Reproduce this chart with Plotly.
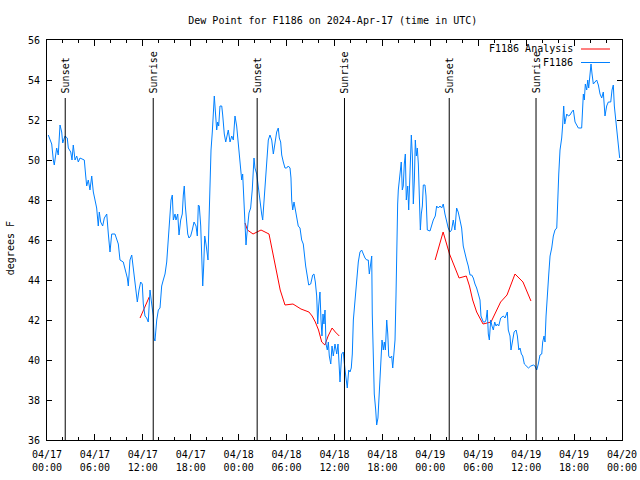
import pandas as pd
import plotly.graph_objects as go

# ---------------- data ----------------
start = pd.Timestamp("2024-04-17 00:00")
x_range = ["2024-04-17 00:00", "2024-04-20 00:00"]

# observed dew point (hours since 04/17 00:00 UTC, degrees F)
obs_hours = [
    0.16, 0.59, 0.79, 0.91, 1.21, 1.41, 1.63, 1.84, 1.97, 2.25, 2.54, 2.67, 2.97, 3.13, 3.29, 3.51,
    3.72, 3.92, 4.13, 4.67, 4.85, 4.97, 5.17, 5.38, 5.60, 5.80, 6.01, 6.22, 6.42, 6.55, 6.72, 6.97,
    7.18, 7.48, 7.68, 7.89, 8.10, 8.51, 8.93, 9.14, 9.55, 9.77, 10.06, 10.18, 10.39, 10.61, 10.81,
    11.02, 11.31, 11.52, 11.73, 11.93, 12.06, 12.27, 12.48, 12.68, 12.90, 13.11, 13.31, 13.40, 13.52,
    13.74, 13.94, 14.15, 14.36, 14.56, 14.78, 14.99, 15.19, 15.40, 15.53, 15.69, 15.82, 16.03, 16.15,
    16.37, 16.53, 16.74, 16.94, 17.07, 17.19, 17.32, 17.49, 17.62, 17.78, 17.99, 18.19, 18.41, 18.66,
    18.82, 18.95, 19.07, 19.25, 19.37, 19.50, 19.62, 19.75, 19.91, 20.04, 20.16, 20.29, 20.41, 20.54,
    20.70, 20.82, 20.95, 21.07, 21.25, 21.37, 21.50, 21.66, 21.88, 22.00, 22.20, 22.38, 22.50, 22.70,
    22.92, 23.13, 23.33, 23.54, 23.75, 23.95, 24.17, 24.38, 24.50, 24.60, 24.67, 24.79, 24.92, 25.01,
    25.11, 25.29, 25.50, 25.70, 25.92, 26.04, 26.26, 26.46, 26.67, 26.88, 27.01, 27.17, 27.34, 27.51,
    27.71, 27.92, 28.14, 28.34, 28.55, 28.76, 28.96, 29.09, 29.26, 29.39, 29.59, 29.80, 30.01, 30.21,
    30.43, 30.55, 30.64, 30.77, 30.93, 31.06, 31.27, 31.46, 31.68, 31.89, 32.09, 32.22, 32.39, 32.59,
    32.77, 33.02, 33.27, 33.43, 33.60, 33.77, 33.90, 34.02, 34.18, 34.31, 34.43, 34.56, 34.68, 34.81,
    34.94, 35.10, 35.23, 35.35, 35.53, 35.69, 35.85, 36.06, 36.28, 36.44, 36.60, 36.69, 36.90, 37.10,
    37.32, 37.44, 37.60, 37.78, 37.94, 38.10, 38.23, 38.36, 38.57, 38.78, 38.98, 39.19, 39.40, 39.61,
    39.82, 40.03, 40.23, 40.36, 40.53, 40.66, 40.73, 40.86, 40.98, 41.16, 41.28, 41.44, 41.57, 41.70,
    41.82, 41.95, 42.11, 42.24, 42.37, 42.54, 42.67, 42.79, 42.95, 43.16, 43.29, 43.45, 43.58, 43.70,
    43.79, 43.91, 43.99, 44.11, 44.24, 44.36, 44.49, 44.61, 44.74, 44.87, 44.99, 45.17, 45.29, 45.42,
    45.54, 45.62, 45.75, 45.87, 46.00, 46.12, 46.25, 46.37, 46.50, 46.62, 46.75, 46.87, 47.00, 47.12,
    47.33, 47.46, 47.62, 47.96, 48.21, 48.37, 48.62, 48.79, 48.99, 49.21, 49.42, 49.62, 49.83, 50.04,
    50.24, 50.45, 50.66, 50.87, 51.08, 51.29, 51.49, 51.71, 51.92, 52.12, 52.33, 52.54, 52.75, 52.97,
    53.18, 53.38, 53.59, 53.80, 54.01, 54.22, 54.34, 54.47, 54.63, 54.84, 54.97, 55.13, 55.26, 55.39,
    55.56, 55.72, 55.89, 56.06, 56.23, 56.39, 56.56, 56.81, 57.14, 57.35, 57.64, 57.76, 57.98, 58.10,
    58.27, 58.49, 58.74, 58.90, 59.08, 59.23, 59.40, 59.57, 59.77, 59.99, 60.28, 60.58, 60.91, 61.11,
    61.32, 61.52, 61.73, 61.95, 62.07, 62.24, 62.36, 62.49, 62.65, 62.83, 62.99, 63.20, 63.40, 63.61,
    63.83, 63.95, 64.08, 64.24, 64.45, 64.58, 64.70, 64.83, 64.95, 65.08, 65.28, 65.49, 65.70, 65.91,
    66.12, 66.33, 66.53, 66.95, 67.16, 67.28, 67.41, 67.58, 67.71, 67.83, 68.00, 68.12, 68.25, 68.41,
    68.62, 68.83, 69.04, 69.25, 69.46, 69.66, 69.87, 70.08, 70.29, 70.59, 70.75, 70.91, 71.04, 71.21,
    71.34, 71.46, 71.59, 71.71,
]
obs_dewpoint = [
    51.25, 50.8, 50.0, 49.75, 50.6, 50.25, 51.75, 51.4, 50.85, 51.2, 51.1, 50.6, 50.4, 50.0, 50.75, 50.0,
    50.2, 49.9, 50.1, 50.0, 49.2, 48.7, 49.0, 48.5, 49.2, 48.4, 48.0, 47.6, 46.7, 47.4, 46.9, 46.7,
    47.1, 47.3, 46.3, 45.4, 46.3, 46.3, 45.8, 45.0, 44.9, 44.5, 44.1, 43.7, 45.0, 45.25, 44.5,
    44.0, 42.9, 43.5, 43.9, 43.8, 42.8, 42.2, 42.1, 41.9, 43.5, 42.8, 42.2, 41.1, 40.95,
    42.0, 42.5, 42.6, 43.7, 44.0, 44.3, 44.9, 46.0, 47.0, 48.0, 48.25, 47.0, 47.3, 47.0,
    47.3, 46.25, 47.0, 47.3, 48.25, 48.7, 47.7, 47.0, 46.3, 46.1, 46.2, 46.5, 46.9, 46.7,
    46.2, 47.75, 47.7, 46.7, 45.2, 43.7, 44.7, 46.2, 45.8, 45.3, 45.0, 47.0, 49.1, 50.5,
    51.4, 52.5, 53.2, 52.5, 51.5, 51.9, 51.7, 52.7, 52.7, 52.25, 51.3, 50.9, 51.2, 51.5,
    50.9, 51.2, 51.0, 52.2, 51.7, 50.7, 49.7, 49.0, 49.3, 48.5, 47.85, 46.85, 45.75, 46.2,
    46.8, 47.35, 47.6, 48.5, 50.1, 49.6, 49.3, 48.6, 48.0, 47.3, 47.0, 48.0, 48.8, 50.2,
    51.0, 51.25, 51.0, 50.3, 51.0, 51.4, 51.6, 51.1, 50.9, 50.25, 49.9, 49.6, 49.6, 49.7,
    49.6, 49.1, 48.0, 47.5, 47.9, 47.6, 47.2, 46.7, 46.6, 46.0, 45.8, 45.2, 44.7, 44.2,
    43.75, 43.8, 44.25, 44.3, 43.9, 43.2, 41.8, 42.7, 43.4, 42.0, 41.2, 42.3, 41.8, 42.5,
    40.8, 40.5, 40.9, 40.2, 39.8, 40.7, 40.2, 40.8, 40.3, 40.8, 39.3, 38.9, 40.3, 40.4,
    39.5, 39.0, 38.6, 39.5, 39.4, 39.6, 40.3, 42.0, 43.0, 44.1, 44.9, 45.4, 45.5, 45.3,
    45.1, 45.0, 45.0, 44.3, 45.0, 45.2, 42.3, 40.3, 38.3, 37.5, 36.75, 37.1, 38.0, 39.1,
    40.3, 41.0, 40.5, 40.9, 40.5, 42.0, 41.3, 40.2, 40.1, 40.2, 39.6, 40.5, 41.0, 43.2,
    46.5, 47.8, 48.5, 49.0, 49.6, 49.9, 48.5, 48.7, 49.8, 50.3, 48.0, 48.7, 47.5, 49.0,
    50.3, 51.25, 50.2, 47.8, 49.0, 51.0, 50.2, 50.6, 49.8, 47.3, 46.5, 47.3, 47.7, 48.75,
    48.75, 48.2, 46.5, 46.45, 46.85, 47.0, 47.2, 47.7, 47.6, 47.7, 47.6, 47.8, 47.3, 46.9,
    46.6, 46.4, 46.5, 47.0, 46.5, 47.6, 47.4, 47.0, 46.6, 45.7, 45.3, 45.0, 44.7, 44.25,
    44.25, 44.1, 43.8, 43.6, 43.3, 43.0, 42.2, 42.0, 41.9, 41.9, 42.0, 42.5, 41.3, 41.0,
    42.0, 41.7, 41.5, 41.9, 41.7, 41.8, 41.7, 42.1, 42.2, 42.1, 42.4, 41.5, 41.2, 40.5,
    41.0, 41.4, 41.5, 41.2, 40.5, 40.6, 40.3, 40.2, 39.8, 39.7, 39.6, 39.7, 39.75, 39.7,
    39.5, 39.8, 40.25, 40.3, 40.9, 41.2, 40.9, 42.2, 43.0, 44.3, 45.2, 45.6, 46.2, 46.5,
    46.6, 48.2, 49.3, 50.5, 51.1, 51.8, 52.7, 51.8, 52.0, 52.3, 52.2, 52.25, 52.4, 52.5,
    51.9, 51.7, 51.6, 51.6, 53.3, 53.0, 53.8, 53.5, 54.0, 53.6, 54.3, 54.8, 54.3, 53.8,
    53.9, 54.0, 53.75, 53.3, 53.1, 53.4, 52.2, 52.7, 52.9, 52.9, 53.5, 53.75, 52.7, 52.0,
    51.8, 51.3, 50.7, 50.1,
]

# analysis (None = gap between analysis periods)
ana_hours = [
    11.65, 12.8, None,
    24.8, 25.1, 25.8, 26.3, 26.8, 27.8, 28.4, 28.8, 29.2, 29.8, 30.8, 31.8, 32.8, 33.2, 33.6,
    34.0, 34.4, 34.8, 35.2, 35.7, 36.1, 36.6, None,
    48.6, 49.6, 50.4, 51.6, 52.5, 52.9, 53.3, 53.8, 54.6, 55.0, 55.6, 56.2, 56.8, 57.6, 58.6,
    59.6, 60.6,
]
ana_dewpoint = [
    42.1, 43.15, None,
    46.85, 46.5, 46.3, 46.4, 46.5, 46.3, 45.2, 44.3, 43.5, 42.75, 42.8, 42.55, 42.4, 42.2, 41.9,
    41.5, 40.9, 40.75, 41.2, 41.6, 41.4, 41.2, None,
    45.0, 46.4, 45.3, 44.1, 44.2, 43.7, 43.0, 42.4, 41.8, 41.85, 41.9, 42.4, 42.9, 43.25, 44.3,
    43.9, 42.95,
]

sun_times = ["2024-04-17 02:17", "2024-04-17 13:18", "2024-04-18 02:19",
             "2024-04-18 13:15", "2024-04-19 02:22", "2024-04-19 13:14"]
sun_labels = ["Sunset", "Sunrise", "Sunset", "Sunrise", "Sunset", "Sunrise"]

series_names = ["F1186 Analysis", "F1186"]
series_colors = ["#ff0000", "#0080ff"]

title_text = "Dew Point for F1186 on 2024-Apr-17 (time in UTC)"
y_title = "degrees F"

# ---------------- figure ----------------
def to_time(hs):
    return [None if h is None else start + pd.Timedelta(hours=h) for h in hs]

FONT = "DejaVu Sans Mono, Liberation Mono, monospace"

fig = go.Figure()
fig.add_trace(go.Scatter(x=to_time(ana_hours), y=ana_dewpoint, mode="lines",
                         line=dict(color=series_colors[0], width=1),
                         connectgaps=False, name=series_names[0], showlegend=False))
fig.add_trace(go.Scatter(x=to_time(obs_hours), y=obs_dewpoint, mode="lines",
                         line=dict(color=series_colors[1], width=1, shape="linear"),
                         name=series_names[1], showlegend=False))

shapes = []
annotations = []
for t, lab in zip(sun_times, sun_labels):
    shapes.append(dict(type="line", xref="x", yref="y", x0=t, x1=t, y0=36, y1=53.1,
                       line=dict(color="black", width=1)))
    annotations.append(dict(xref="x", yref="paper", x=t, y=0.862, text=lab,
                            textangle=-90, showarrow=False, xanchor="center",
                            yanchor="bottom", font=dict(family=FONT, size=10, color="black")))

# legend drawn in gnuplot style (text, then line sample to its right)
leg_y = [0.9775, 0.94375]
for name, col, yy in zip(series_names, series_colors, leg_y):
    annotations.append(dict(xref="paper", yref="paper", x=0.9183, y=yy, text=name,
                            showarrow=False, xanchor="right", yanchor="middle",
                            font=dict(family=FONT, size=10, color="black")))
    shapes.append(dict(type="line", xref="paper", yref="paper", x0=0.9287, x1=0.9791,
                       y0=yy, y1=yy, line=dict(color=col, width=1)))

annotations.append(dict(xref="paper", yref="paper", x=-0.064, y=0.48, text=y_title,
                        textangle=-90, showarrow=False, xanchor="center", yanchor="middle",
                        font=dict(family=FONT, size=10, color="black")))

fig.update_layout(
    width=640, height=480,
    margin=dict(l=47, r=18, t=40, b=40, autoexpand=False),
    paper_bgcolor="white", plot_bgcolor="white",
    font=dict(family=FONT, size=10, color="black"),
    title=dict(text=title_text, x=0.497, xref="paper", y=1 - 20 / 480, yanchor="middle",
               xanchor="center", font=dict(family=FONT, size=10, color="black")),
    shapes=shapes, annotations=annotations,
    showlegend=False,
)
fig.update_xaxes(type="date", range=x_range, dtick=6 * 3600 * 1000, tick0="2024-04-17 00:00",
                 tickformat="%m/%d<br>%H:%M", ticks="inside", ticklen=6, tickcolor="black",
                 minor=dict(dtick=2 * 3600 * 1000, ticks="inside", ticklen=3, tickcolor="black"),
                 showline=True, linecolor="black", linewidth=1, mirror="ticks",
                 showgrid=False, zeroline=False, tickfont=dict(family=FONT, size=10),
                 ticklabelstandoff=5)
fig.update_yaxes(range=[36, 56], dtick=2, ticks="inside", ticklen=5, tickcolor="black",
                 showline=True, linecolor="black", linewidth=1, mirror="ticks",
                 showgrid=False, zeroline=False, tickfont=dict(family=FONT, size=10),
                 ticklabelstandoff=4)

fig.write_html("out.html", config={"displayModeBar": False},
               post_script="document.body.style.margin='0';")
